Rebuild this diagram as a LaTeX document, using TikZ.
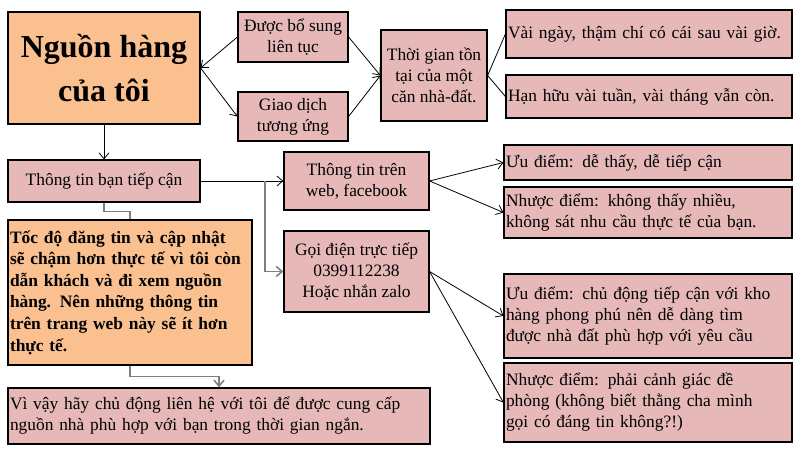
\documentclass[tikz,border=0pt]{standalone}
\usepackage{fontspec}
\setmainfont{Liberation Serif}
\usetikzlibrary{arrows.meta,positioning,calc}
\definecolor{boxpink}{RGB}{230, 185, 184}
\definecolor{boxorange}{RGB}{250, 192, 144}
\definecolor{linkgray}{RGB}{128, 128, 128}

\begin{document}
\begin{tikzpicture}[x=1pt, y=-1pt, >={Straight Barb[length=6pt,width=10pt]},
		pinkbox/.style={draw=black, line width=1.2pt, fill=boxpink, inner sep=2pt, font=\fontsize{17.4}{21}\selectfont, align=center},
		orangebox/.style={pinkbox, fill=boxorange},
		leftbox/.style={pinkbox, align=left},
		arrowLine/.style={line width=0.8pt, ->, color=black},
		plainLine/.style={line width=0.8pt, -, color=black},
		grayLine/.style={line width=1.6pt, color=linkgray}
		]
		\useasboundingbox (0,0) rectangle (802,454);
		
		% top part
		\node [orangebox, minimum width=192pt, minimum height=112pt, font=\fontsize{32}{44}\selectfont\bfseries] (source) at (104,68) {Nguồn hàng\\của tôi};
		\node [pinkbox, minimum width=110pt, minimum height=50pt] (added) at (293,37) {Được bổ sung\\liên tục};
		\node [pinkbox, minimum width=110pt, minimum height=49pt] (deal) at (293,116.5) {Giao dịch\\tương ứng};
		\node [pinkbox, minimum width=106pt, minimum height=91pt] (lifetime) at (434,75.5) {Thời gian tồn\\tại của một\\căn nhà-đất.};
		\node [leftbox, text width=282pt, minimum height=48pt] (days) at (649,34) {Vài ngày, thậm chí có cái sau vài giờ.};
		\node [leftbox, text width=282pt, minimum height=43pt] (weeks) at (649,96.5) {Hạn hữu vài tuần, vài tháng vẫn còn.};
		
		% middle part
		\node [pinkbox, minimum width=192pt, minimum height=42pt] (info) at (104,181) {Thông tin bạn tiếp cận};
		\node [orangebox, align=left, text width=240pt, minimum height=145pt, font=\fontsize{17.4}{21.6}\selectfont\bfseries] (speed) at (130,292.5) {Tốc độ đăng tin và cập nhật\\sẽ chậm hơn thực tế vì tôi còn\\dẫn khách và đi xem nguồn\\hàng. Nên những thông tin\\trên trang web này sẽ ít hơn\\thực tế.};
		\node [pinkbox, minimum width=145pt, minimum height=58pt] (web) at (356.5,181) {Thông tin trên\\web, facebook};
		\node [pinkbox, minimum width=145pt, minimum height=81pt] (call) at (356.5,271.5) {Gọi điện trực tiếp\\0399112238\\Hoặc nhắn zalo};
		\node [leftbox, text width=284pt, minimum height=35pt] (webpro) at (648,162.5) {Ưu điểm: dễ thấy, dễ tiếp cận};
		\node [leftbox, text width=284pt, minimum height=51pt] (webcon) at (648,212.5) {Nhược điểm: không thấy nhiều,\\không sát nhu cầu thực tế của bạn.};
		\node [leftbox, text width=284pt, minimum height=84pt] (callpro) at (648,316) {Ưu điểm: chủ động tiếp cận với kho\\hàng phong phú nên dễ dàng tìm\\được nhà đất phù hợp với yêu cầu};
		\node [leftbox, text width=284pt, minimum height=79pt] (callcon) at (648,402.5) {Nhược điểm: phải cảnh giác đề\\phòng (không biết thằng cha mình\\gọi có đáng tin không?!)};
		
		% bottom part
		\node [leftbox, text width=418pt, minimum height=56pt] (contact) at (219,416) {Vì vậy hãy chủ động liên hệ với tôi để được cung cấp\\nguồn nhà phù hợp với bạn trong thời gian ngắn.};
		
		\coordinate (split) at (265,181);
		
		\draw [arrowLine] (added.west) -- (source.east);
		\draw [arrowLine] (source.east) -- (deal.west);
		\draw [arrowLine] (added.east) -- (lifetime.west);
		\draw [arrowLine] (deal.east) -- (lifetime.west);
		\draw [plainLine] (lifetime.east) -- (days.west);
		\draw [plainLine] (lifetime.east) -- (weeks.west);
		
		\draw [arrowLine] (source.south) -- (info.north);
		\draw [arrowLine] (info.east) -- (web.west);
		\draw [grayLine, ->] (split) |- (call.west);
		\draw [grayLine] (info.south) -- ++(0,9) -| (speed.north);
		\draw [grayLine, ->] (speed.south) -- ++(0,11) -| (contact.north);
		
		\draw [arrowLine] (web.east) -- (webpro.west);
		\draw [arrowLine] (web.east) -- (webcon.west);
		\draw [arrowLine] (call.east) -- (callpro.west);
		\draw [arrowLine] (call.east) -- (callcon.west);
		
\end{tikzpicture}
\end{document}
